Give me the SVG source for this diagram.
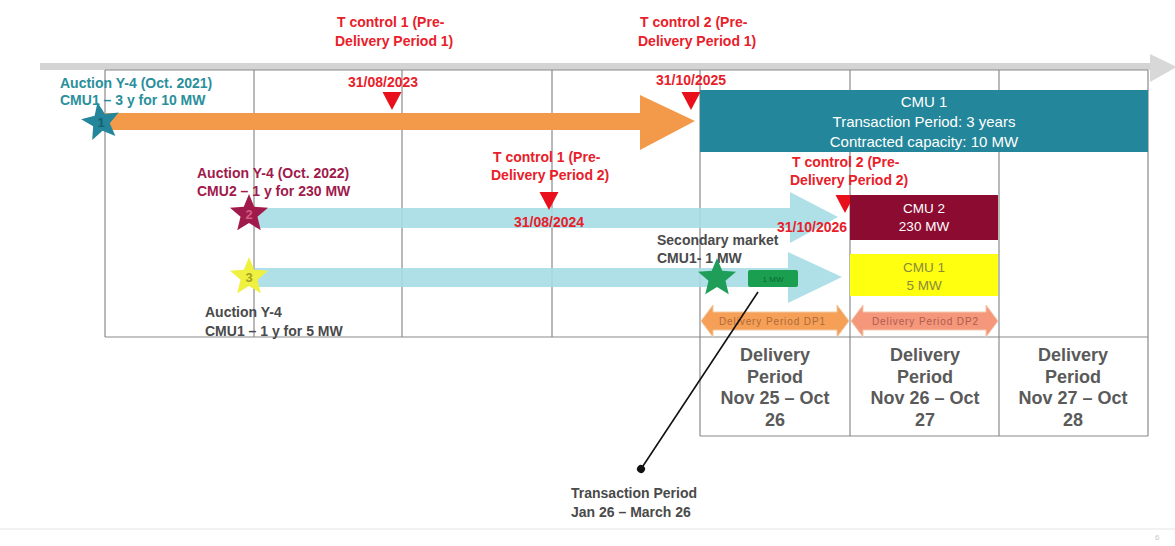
<svg xmlns="http://www.w3.org/2000/svg" width="1175" height="546" viewBox="0 0 1175 546">
<style>
text{font-family:"Liberation Sans",Arial,sans-serif;font-weight:bold}
.red{fill:#e8202a;font-size:14px}
.grid{stroke:#8a8a8a;stroke-width:1.2;fill:none}
.wt{fill:#ffffff;font-size:15px;font-weight:normal}
.dp{fill:#5a5a5a;font-size:18px}
.gr{fill:#4a4a4a;font-size:14px}
.tri{fill:#e8101a}
.blue{fill:#a6dde6;opacity:0.9}
</style>
<defs>
<path id="star" d="M0,-20 L5.22,-7.19 L19.02,-6.18 L8.46,2.75 L11.76,16.18 L0,8.9 L-11.76,16.18 L-8.46,2.75 L-19.02,-6.18 L-5.22,-7.19 Z"/>
<path id="tri" d="M-9.5,0 L9.5,0 L0,18 Z"/>
<marker id="dot" markerWidth="6" markerHeight="6" refX="3" refY="3" orient="auto"><circle cx="3" cy="3" r="2.5" fill="#111"/></marker>
</defs>
<rect width="1175" height="546" fill="#ffffff"/>
<g id="timeline-axis">
<rect x="40" y="63" width="1112" height="7" fill="#d4d4d4"/>
<path d="M1150,54 L1175,66 L1175,68 L1150,82 Z" fill="#d8d8d8"/>
</g>
<g id="grid">
<line class="grid" x1="105" y1="70" x2="1148" y2="70"/>
<line class="grid" x1="105" y1="337" x2="1148" y2="337"/>
<line class="grid" x1="700" y1="436" x2="1148" y2="436"/>
<line class="grid" x1="105" y1="70" x2="105" y2="337"/>
<line class="grid" x1="254" y1="70" x2="254" y2="337"/>
<line class="grid" x1="402" y1="70" x2="402" y2="337"/>
<line class="grid" x1="552" y1="70" x2="552" y2="337"/>
<line class="grid" x1="700" y1="70" x2="700" y2="436"/>
<line class="grid" x1="850" y1="70" x2="850" y2="436"/>
<line class="grid" x1="999" y1="70" x2="999" y2="436"/>
<line class="grid" x1="1148" y1="70" x2="1148" y2="436"/>
</g>
<g id="cmu1-box">
<rect x="700" y="90" width="448" height="62" fill="#23869a"/>
<text class="wt" x="924" y="107" text-anchor="middle">CMU 1</text>
<text class="wt" x="924" y="127" text-anchor="middle">Transaction Period: 3 years</text>
<text class="wt" x="924" y="147" text-anchor="middle">Contracted capacity: 10 MW</text>
</g>
<g id="arrow1">
<path d="M105,113 L640,113 L640,95 L695,121 L640,150 L640,130 L105,130 Z" fill="#f39a4a"/>
</g>
<g id="arrow2">
<path class="blue" d="M255,208 L790,208 L790,192 L838,217 L790,243 L790,228 L255,228 Z"/>
</g>
<g id="arrow3">
<path class="blue" d="M255,268 L788,268 L788,252 L842,277 L788,303 L788,287 L255,287 Z"/>
</g>
<g id="tcontrol-1-dp1">
<text class="red" x="337" y="27">T control 1 (Pre-</text>
<text class="red" x="335" y="46">Delivery Period 1)</text>
<text class="red" x="383" y="87" text-anchor="middle">31/08/2023</text>
<use href="#tri" class="tri" transform="translate(392,92)"/>
</g>
<g id="tcontrol-2-dp1">
<text class="red" x="640" y="27">T control 2 (Pre-</text>
<text class="red" x="638" y="46">Delivery Period 1)</text>
<text class="red" x="691" y="85" text-anchor="middle">31/10/2025</text>
<use href="#tri" class="tri" transform="translate(691,92)"/>
</g>
<g id="tcontrol-1-dp2">
<text class="red" x="493" y="162">T control 1 (Pre-</text>
<text class="red" x="491" y="180">Delivery Period 2)</text>
<use href="#tri" class="tri" transform="translate(549,192)"/>
<text class="red" x="549" y="227" text-anchor="middle">31/08/2024</text>
</g>
<g id="tcontrol-2-dp2">
<text class="red" x="792" y="167">T control 2 (Pre-</text>
<text class="red" x="790" y="185">Delivery Period 2)</text>
<text class="red" x="777" y="232">31/10/2026</text>
<use href="#tri" class="tri" transform="translate(845,195)"/>
</g>
<g id="cmu2-box">
<rect x="850" y="195" width="148" height="45" fill="#8c0b30"/>
<text class="wt" x="924" y="213" text-anchor="middle" style="font-size:13.5px">CMU 2</text>
<text class="wt" x="924" y="231" text-anchor="middle" style="font-size:13.5px">230 MW</text>
</g>
<g id="cmu1-5mw-box">
<rect x="850" y="254" width="148" height="42" fill="#ffff10"/>
<text class="wt" x="924" y="272" text-anchor="middle" style="fill:#8a8a3a;font-size:13.5px">CMU 1</text>
<text class="wt" x="924" y="290" text-anchor="middle" style="fill:#8a8a3a;font-size:13.5px">5 MW</text>
</g>
<g id="auction1">
<use href="#star" fill="#23869a" transform="translate(101,122) rotate(-10)"/>
<text x="101" y="127" text-anchor="middle" style="fill:#176070;font-size:13px">1</text>
<text x="60" y="88" style="fill:#2a8f9c;font-size:14px">Auction Y-4 (Oct. 2021)</text>
<text x="60" y="105" style="fill:#2a8f9c;font-size:14px">CMU1 – 3 y for 10 MW</text>
</g>
<g id="auction2">
<use href="#star" fill="#a01a4c" transform="translate(249,214)"/>
<text x="249" y="219" text-anchor="middle" style="fill:#d06080;font-size:13px">2</text>
<text x="197" y="178" style="fill:#a01a4c;font-size:14px">Auction Y-4 (Oct. 2022)</text>
<text x="197" y="196" style="fill:#a01a4c;font-size:14px">CMU2 – 1 y for 230 MW</text>
</g>
<g id="auction3">
<use href="#star" fill="#f0f040" transform="translate(249,277)"/>
<text x="249" y="282" text-anchor="middle" style="fill:#a0a020;font-size:13px">3</text>
<text class="gr" x="205" y="317">Auction Y-4</text>
<text class="gr" x="205" y="336">CMU1 – 1 y for 5 MW</text>
</g>
<g id="secondary-market">
<text class="gr" x="657" y="245">Secondary market</text>
<text class="gr" x="657" y="263">CMU1- 1 MW</text>
<use href="#star" fill="#1f9e5a" transform="translate(717,278)"/>
<rect x="748" y="270" width="50" height="17" rx="2" fill="#1a9e50"/>
<text x="773" y="282" text-anchor="middle" style="fill:#0e6a30;font-size:8px;font-weight:normal">1 MW</text>
</g>
<g id="dp1-arrow">
<path d="M701,321 L713,305 L713,312 L837,312 L837,305 L849,321 L837,337 L837,330 L713,330 L713,337 Z" fill="#f5a056" stroke="#f0c8a0" stroke-width="1"/>
<text x="772" y="325" text-anchor="middle" textLength="106" style="fill:#b0683a;font-size:10px;font-weight:normal">Delivery Period DP1</text>
</g>
<g id="dp2-arrow">
<path d="M851,321 L863,305 L863,312 L986,312 L986,305 L998,321 L986,337 L986,330 L863,330 L863,337 Z" fill="#f4977a" stroke="#f5c8b0" stroke-width="1"/>
<text x="925" y="325" text-anchor="middle" textLength="106" style="fill:#b05a50;font-size:10px;font-weight:normal">Delivery Period DP2</text>
</g>
<g id="delivery-periods">
<text class="dp" x="775" y="361" text-anchor="middle">Delivery</text>
<text class="dp" x="775" y="383" text-anchor="middle">Period</text>
<text class="dp" x="775" y="404" text-anchor="middle">Nov 25 – Oct</text>
<text class="dp" x="775" y="426" text-anchor="middle">26</text>
<text class="dp" x="925" y="361" text-anchor="middle">Delivery</text>
<text class="dp" x="925" y="383" text-anchor="middle">Period</text>
<text class="dp" x="925" y="404" text-anchor="middle">Nov 26 – Oct</text>
<text class="dp" x="925" y="426" text-anchor="middle">27</text>
<text class="dp" x="1073" y="361" text-anchor="middle">Delivery</text>
<text class="dp" x="1073" y="383" text-anchor="middle">Period</text>
<text class="dp" x="1073" y="404" text-anchor="middle">Nov 27 – Oct</text>
<text class="dp" x="1073" y="426" text-anchor="middle">28</text>
</g>
<g id="connectors">
<line x1="758" y1="292" x2="641" y2="469" stroke="#111" stroke-width="1.6" marker-end="url(#dot)"/>
</g>
<g id="transaction-period">
<text class="gr" x="571" y="498">Transaction Period</text>
<text class="gr" x="571" y="517">Jan 26 – March 26</text>
</g>
<g id="footer">
<line x1="0" y1="529" x2="1175" y2="529" stroke="#eeeeee" stroke-width="1.5"/>
<text x="1155" y="540" style="fill:#c8c8c8;font-size:8px;font-weight:normal">6</text>
</g>
</svg>
